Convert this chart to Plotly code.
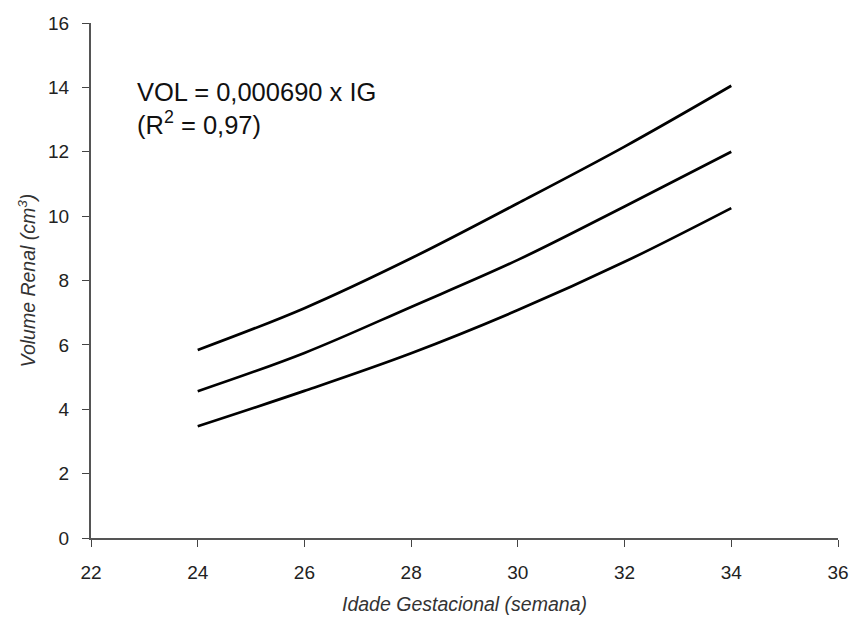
import plotly.graph_objects as go

# Gestational age (weeks) and renal volume curves (cm3)
idade = [24, 26, 28, 30, 32, 34]
vol_superior = [5.84, 7.14, 8.69, 10.40, 12.16, 14.05]
vol_medio = [4.56, 5.75, 7.18, 8.64, 10.30, 12.00]
vol_inferior = [3.47, 4.57, 5.74, 7.08, 8.58, 10.25]

x_ticks = [22, 24, 26, 28, 30, 32, 34, 36]
y_ticks = [0, 2, 4, 6, 8, 10, 12, 14, 16]

fig = go.Figure()
for serie in (vol_superior, vol_medio, vol_inferior):
    fig.add_trace(go.Scatter(
        x=idade, y=serie, mode="lines",
        line=dict(color="black", width=2.7, shape="spline"),
        showlegend=False, hoverinfo="skip",
    ))

font_family = "Liberation Sans, Arial, sans-serif"

# Regression equation
fig.add_annotation(
    x=0.059, y=0.898, xref="paper", yref="paper",
    xanchor="left", yanchor="top",
    text="VOL = 0,000690 x IG<br>(R<sup>2</sup> = 0,97)",
    showarrow=False, align="left",
    font=dict(family=font_family, size=25.5, color="#111"),
)

fig.update_layout(
    width=851, height=627,
    margin=dict(l=91, r=13, t=23, b=89, autoexpand=False),
    paper_bgcolor="white", plot_bgcolor="white",
    font=dict(family=font_family, size=15, color="#222"),
    xaxis=dict(
        range=[22, 36], tickvals=x_ticks, showgrid=False, zeroline=False,
        showline=True, linecolor="#555", linewidth=2,
        ticks="outside", ticklen=7, tickcolor="#444",
        ticklabelstandoff=9, ticklabeloverflow="allow", automargin=False,
        tickfont=dict(family=font_family, size=19, color="#222"),
        title=dict(text="<i>Idade Gestacional (semana)</i>", standoff=16,
                   font=dict(size=19.5, color="#333")),
    ),
    yaxis=dict(
        range=[0, 16], tickvals=y_ticks, showgrid=False, zeroline=False,
        showline=True, linecolor="#555", linewidth=2,
        ticks="outside", ticklen=7, tickcolor="#444",
        ticklabelstandoff=9, ticklabeloverflow="allow", automargin=False,
        tickfont=dict(family=font_family, size=19, color="#222"),
        title=dict(text="<i>Volume Renal (cm<sup>3</sup>)</i>", standoff=7,
                   font=dict(size=19.5, color="#333")),
    ),
)

fig.write_html("out.html")
